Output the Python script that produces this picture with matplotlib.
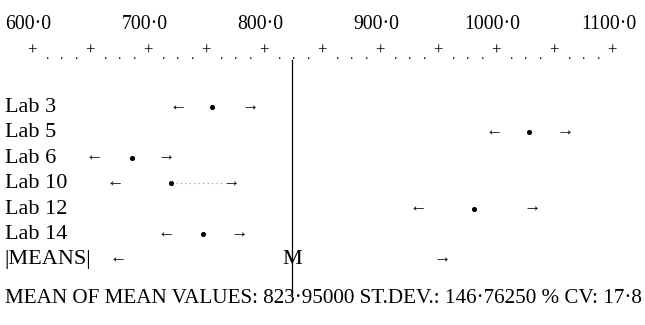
import numpy as np
import matplotlib.pyplot as plt

plt.rcParams['font.family'] = ['Liberation Serif', 'DejaVu Serif']

# interval per laboratory: lower end, mean, upper end
labs = ['Lab 3', 'Lab 5', 'Lab 6', 'Lab 10', 'Lab 12', 'Lab 14']
lows = [726, 998, 654, 672, 933, 716]
mids = [755, 1028, 686, 720, 981, 747]
highs = [788, 1060, 716, 772, 1031, 779]

means_label = '|MEANS|'
means_low = 674
means_high = 954
mean_of_means = 823.95
st_dev = 146.7625
cv = 17.8

scale_ticks = [600, 650, 700, 750, 800, 850, 900, 950, 1000, 1050, 1100]
scale_labels = [600, 700, 800, 900, 1000, 1100]

# rows whose mean is joined to the upper arrow by a faint dotted trail
trail_rows = ['Lab 10']

fig = plt.figure(figsize=(6.45, 3.25), dpi=100)
ax = fig.add_axes([0, 0, 1, 1])
ax.set_xlim(572.4, 1128.4)
ax.set_ylim(8.58, -4.21)
ax.axis('off')

fs = 16
arr = 12.5

# scale header
for v in scale_labels:
    ax.text(v - 3, -3.25, f'{v:.1f}'.replace('.', '·'), ha='center', va='center', fontsize=14.2)
for v in scale_ticks:
    ax.text(v, -2.22, '+', ha='center', va='center', fontsize=12)
for a, b in zip(scale_ticks[:-1], scale_ticks[1:]):
    for k in range(1, 4):
        ax.text(a + (b - a) * k / 4, -2.02, '.', ha='center', va='center', fontsize=10)

# one row per laboratory
for i, name in enumerate(labs):
    ax.text(576.5, i + 0.02, name, ha='left', va='center', fontsize=fs)
    ax.text(lows[i], i - 0.03, '←', ha='center', va='center', fontsize=arr)
    ax.text(highs[i], i - 0.03, '→', ha='center', va='center', fontsize=arr)
    if name in trail_rows:
        ax.plot([mids[i] + 4, highs[i] - 7], [i, i], color='#999999', lw=0.8,
                ls=(0, (1, 3)))
ax.scatter(mids, range(len(labs)), s=7, color='black', zorder=3)

# row of the mean values
r = len(labs)
ax.text(576.5, r + 0.02, means_label, ha='left', va='center', fontsize=fs)
ax.text(means_low, r - 0.03, '←', ha='center', va='center', fontsize=arr)
ax.text(means_high, r - 0.03, '→', ha='center', va='center', fontsize=arr)
ax.text(mean_of_means, r + 0.02, 'M', ha='center', va='center', fontsize=fs)

# vertical line at the mean of mean values
ax.plot([mean_of_means, mean_of_means], [-1.85, 7.4], color='black', lw=0.9)

summary = (f'MEAN OF MEAN VALUES: {mean_of_means:.5f} ST.DEV.: {st_dev:.5f} % CV: {cv:.1f}'
           .replace('.', '·').replace('ST·DEV·', 'ST.DEV.'))
ax.text(576.5, 7.55, summary, ha='left', va='center', fontsize=15.2)

fig.savefig('out.png', dpi=100)
